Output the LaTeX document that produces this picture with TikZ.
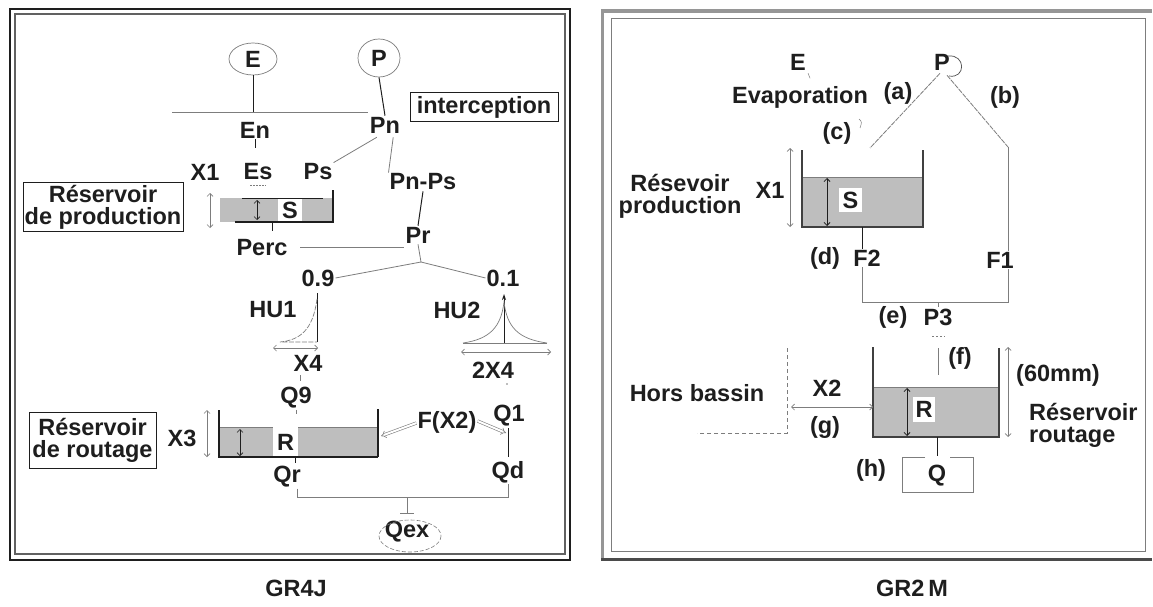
\documentclass[tikz,border=0pt]{standalone}
\usepackage{fontspec}
\setmainfont{Liberation Sans}
\usetikzlibrary{shapes.geometric,arrows.meta}
\definecolor{fillg}{RGB}{190,190,190}
\definecolor{linegray}{RGB}{125,125,125}
\definecolor{dark}{RGB}{30,30,30}
\definecolor{framegray}{RGB}{150,150,150}
\begin{document}
\begin{tikzpicture}[x=1pt,y=-1pt,
 lab/.style={font=\bfseries\fontsize{23.5}{25}\selectfont, inner sep=1pt, text=dark},
 gl/.style={draw=linegray, line width=0.8pt},
 dl/.style={draw=dark, line width=1pt},
 wall/.style={draw=dark, line width=1.4pt},
 tank/.style={fill=fillg, draw=none},
 dimg/.style={draw=linegray, line width=0.7pt, {Straight Barb[length=3pt,width=6pt]}-{Straight Barb[length=3pt,width=6pt]}},
 dimd/.style={draw=dark, line width=0.8pt, {Straight Barb[length=3pt,width=6pt]}-{Straight Barb[length=3pt,width=6pt]}},
 wbox/.style={lab, fill=white, inner sep=0pt},
 tbox/.style={lab, draw=dark, line width=1pt, align=center, inner sep=1.5pt},
 oval/.style={lab, ellipse, draw=linegray, line width=0.7pt, inner sep=0pt},
 dblarrow/.style={draw=linegray, line width=0.6pt, double=white, double distance=2pt, -{Implies}},
 ]
\useasboundingbox (0,0) rectangle (1153,607);
\fill[white] (0,0) rectangle (1153,607);

% ---------- frames ----------
\draw[draw=dark, line width=2.5pt] (10,9) rectangle (570,560);
\draw[draw=dark!70, line width=1.1pt] (15,14) rectangle (565,554);
\draw[draw=framegray, line width=3pt] (602,11) -- (602,559);
\draw[draw=framegray, line width=4pt] (601,11) -- (1152,11);
\draw[draw=dark!80, line width=3pt] (601,559) -- (1152,559);
\draw[draw=linegray, line width=1pt] (611,19) rectangle (1145,551);

% ---------- GR4J ----------
\node[oval, minimum width=48pt, minimum height=32pt] (E) at (253,59) {E};
\node[oval, minimum width=42pt, minimum height=38pt] (P) at (379,58) {P};
\coordinate (Ebar) at (253,112);
\coordinate (Hl) at (172,112);
\coordinate (Hr) at (368,112);
\draw[dl] (E.south) -- (Ebar);
\draw[gl] (Hl) -- (Hr);
\node[lab] (Pn) at (385,125) {Pn};
\draw[dl] (P.south) -- (Pn.north);
\node[tbox, minimum width=148pt, minimum height=29pt] (icp) at (484,107) {interception};
\node[lab] (En) at (255,130) {En};
\node[lab] (Es) at (258,172) {Es};
\draw[dl] (En.south) -- ++(0,9);
\draw[draw=linegray, line width=0.6pt, dash pattern=on 2pt off 1pt] (250,185) -- (266,185);
\node[lab] (X1a) at (205,172) {X1};
\node[lab] (Ps) at (318,172) {Ps};
\node[lab] (PnPs) at (423,182) {Pn-Ps};
\draw[gl] (Pn.south west) ++(8,3) -- (Ps.north east);
\draw[gl] (Pn.south east) ++(-8,3) -- (PnPs.north west);
\node[lab] (Pr) at (418,235) {Pr};
\draw[dl] (PnPs.south) -- (Pr.north);
% production reservoir
\fill[fillg] (220,198) rectangle (333,222);
\node[wbox, minimum width=24pt, minimum height=24pt] (S4) at (290,210) {S};
\draw[dl] (242,198) -- (323,198);
\draw[wall] (333,190) -- (333,222) -- (235,222);
\draw[dimd, line width=0.6pt] (257,200) -- (257,220);
\draw[dimg] (210,193) -- (210,228);
\draw[dl] (272,222) -- (272,231);
\node[tbox, minimum width=160pt, minimum height=49pt] (RP) at (103,207) {R\'eservoir\\[-3pt]de production};
\node[lab] (Perc) at (262,248) {Perc};
\coordinate (PercL) at (300,247);
\coordinate (PercR) at (404,247);
\draw[gl] (PercL) -- (PercR);
\coordinate (apex) at (421,262);
\draw[gl] (Pr.south) -- (apex);
\node[lab] (n09) at (318,278) {0.9};
\node[lab] (n01) at (503,278) {0.1};
\draw[gl] (apex) -- (n09.east);
\draw[gl] (apex) -- (n01.west);
% HU1
\node[lab] (HU1) at (273,310) {HU1};
\coordinate (h1top) at (317,293);
\coordinate (h1base) at (317,342);
\draw[dl] (h1top) -- (h1base);
\draw[draw=linegray, line width=0.7pt, dash pattern=on 5pt off 1.5pt] (317,299) .. controls (313,330) and (300,340) .. (280,342) -- (h1base);
\draw[dimg] (273,348) -- (318,348);
\node[lab] (X4) at (308,363) {X4};
\node[lab] (Q9) at (296,398) {Q9};
\draw[gl] (X4.south) ++(-8,3) -- ++(0,6);
% HU2
\node[lab] (HU2) at (457,310) {HU2};
\draw[dl, -{Stealth[length=6pt,width=4pt]}] (504,343) -- (504,294);
\draw[draw=linegray, line width=0.7pt] (463,343) .. controls (490,339) and (501,327) .. (504,302) .. controls (507,327) and (518,339) .. (547,343);
\draw[draw=linegray, line width=0.6pt] (463,343) -- (547,343);
\draw[dimg] (461,352) -- (551,352);
\node[lab] (X42) at (493,370) {2X4};
\fill[linegray] (507,384) circle (0.8);
% routing reservoir
\fill[fillg] (219,427) rectangle (378,457);
\draw[draw=linegray, line width=0.6pt] (219,427) -- (378,427);
\node[wbox, minimum width=25pt, minimum height=30pt] (R4) at (285.5,442) {R};
\draw[wall] (219,410) -- (219,457) -- (378,457);
\draw[draw=dark, line width=2pt] (378,409) -- (378,457);
\draw[dimd, line width=0.6pt] (240,429) -- (240,456);
\draw[dimg] (207,410) -- (207,457);
\node[lab] (X3) at (182,438) {X3};
\node[tbox, minimum width=127pt, minimum height=56pt] (RR) at (92.5,440) {R\'eservoir\\[-3pt]de routage};
\draw[gl] (Q9.south) -- ++(0,4);
\node[lab] (Qr) at (287,477) {Qr};
\draw[dl] (295,457) -- (295,463);
\node[lab] (FX) at (447,422) {F(X2)};
\coordinate (RwallF) at (381,436);
\coordinate (Q1in) at (506,433);
\draw[dblarrow] (FX.west) ++(0,1) -- (RwallF);
\draw[dblarrow] (FX.east) ++(0,-1) -- (Q1in);
\node[lab] (Q1) at (509,416) {Q1};
\node[lab] (Qd) at (508,472) {Qd};
\draw[dl] (508,428) -- (508,457);
\coordinate (Jl) at (297,497);
\coordinate (Jr) at (508,497);
\coordinate (Jm) at (407,497);
\coordinate (Jb) at (407,513);
\draw[gl] (Qr.south -| Jl) -- (Jl) -- (Jr) -- (Qd.south);
\draw[gl] (Jm) -- (Jb);
\draw[gl] (400,513) -- (414,513);
\node[lab] (Qex) at (407,532) {Qex};
\draw[draw=linegray, line width=0.6pt, dash pattern=on 4pt off 2pt] (410,536) ellipse (31 and 16);
\node[lab] (cap1) at (296,588) {GR4J};

% ---------- GR2M ----------
\node[lab] (E2) at (798,62) {E};
\draw[draw=linegray, line width=0.5pt] (E2.south east) ++(1,2) -- ++(2,5);
\node[lab] (Evap) at (800,97) {Evaporation};
\node[lab] (P2) at (942,62) {P};
\draw[draw=dark!80, line width=0.7pt] (948,56) .. controls (966,54) and (966,79) .. (949,76);
\node[lab] (la) at (898,93) {(a)};
\node[lab] (lb) at (1005,97) {(b)};
\node[lab] (lc) at (837,133) {(c)};
\draw[draw=linegray, line width=0.5pt] (859,119) .. controls (862,122) .. (860,128);
\coordinate (aend) at (870,148);
\coordinate (bcorner) at (1008,147);
\draw[draw=linegray, line width=0.8pt, dash pattern=on 5pt off 1pt] (P2.south) ++(-2,2) -- (aend);
\draw[draw=linegray, line width=0.8pt, dash pattern=on 5pt off 1pt] (P2.south) ++(5,4) -- (bcorner);
\node[lab] (F1) at (1000,260) {F1};
\node[lab] (F2) at (867,258) {F2};
\node[lab] (ld) at (825,258) {(d)};
\coordinate (Bl) at (862,302);
\coordinate (Br) at (1008,302);
\draw[gl] (bcorner) -- (F1.north -| bcorner);
\draw[gl] (F1.south -| Br) -- (Br) -- (Bl) -- (F2.south -| Bl);
% S reservoir
\fill[fillg] (802,177) rectangle (923,227);
\draw[draw=linegray, line width=0.6pt] (802,177) -- (923,177);
\node[wbox, minimum width=23pt, minimum height=24pt] (S2) at (850.5,200) {S};
\draw[draw=dark!85, line width=1.1pt] (802,150) -- (802,227) -- (923,227) -- (923,150);
\draw[dimd] (827,178) -- (827,226);
\draw[dimg] (790,148) -- (790,227);
\node[lab] (X12) at (770,190) {X1};
\node[lab, align=center] (RPr) at (680,196) {R\'esevoir\\[-3pt]production};
\draw[dl] (862,227) -- (F2.north -| Bl);
% P3
\node[lab] (le) at (893,317) {(e)};
\node[lab] (P3) at (938,317) {P3};
\draw[gl] (Bl -| P3.north) -- (P3.north);
\draw[draw=linegray, line width=0.6pt, dash pattern=on 2pt off 2pt] (932,336) -- (945,336);
\draw[gl] (938,348) -- (938,375);
\node[lab] (lf) at (960,358) {(f)};
% R reservoir
\fill[fillg] (873,387) rectangle (999,437);
\draw[draw=linegray, line width=0.6pt] (873,387) -- (999,387);
\node[wbox, minimum width=22pt, minimum height=25pt] (R2) at (924,409.5) {R};
\draw[draw=dark!85, line width=1.1pt] (873,347) -- (873,437) -- (999,437) -- (999,348);
\draw[dimd] (907,388) -- (907,436);
\draw[dl] (937,437) -- (937,456);
\node[lab] (Q) at (937,476) {Q};
\draw[gl] (925,457) -- (902,457) -- (902,492) -- (973,492) -- (973,457) -- (950,457);
\node[lab] (lh) at (871,470) {(h)};
\draw[dimg] (1008,347) -- (1008,437);
\node[lab] (mm) at (1058,375) {(60mm)};
\node[lab, align=left, anchor=west] (RRo) at (1028,425) {R\'eservoir\\[-3pt]routage};
% hors bassin
\node[lab] (HB) at (697,393) {Hors bassin};
\draw[draw=linegray, line width=0.8pt, dash pattern=on 4pt off 3pt] (787,348) -- (787,433) -- (697,433);
\node[lab] (X2) at (827,388) {X2};
\coordinate (X2l) at (791,407);
\coordinate (X2r) at (873,407);
\draw[dimg] (X2l) -- (X2r);
\node[lab] (lg) at (825,427) {(g)};
\node[lab] (cap2) at (912,588) {GR2\,M};
\end{tikzpicture}
\end{document}
